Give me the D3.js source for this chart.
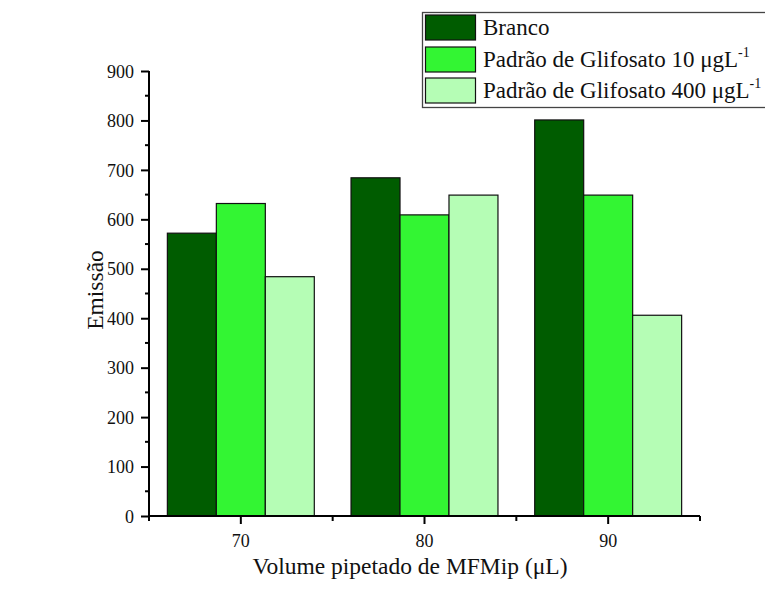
<!DOCTYPE html>
<html><head><meta charset="utf-8">
<script src="https://cdn.jsdelivr.net/npm/d3@7"></script>
<style>body{margin:0;background:#fff}svg{display:block}text{font-family:"Liberation Serif","Times New Roman",serif;fill:#111}</style>
</head><body>
<svg id="c" width="765" height="610"></svg>
<script>
const categories = ["70","80","90"];
const seriesNames = ["Branco","Padrão de Glifosato 10 μgL","Padrão de Glifosato 400 μgL"];
const branco = [572, 684, 801];
const glif10 = [632, 609, 649];
const glif400 = [484, 649, 406];
const yTicks = [0,100,200,300,400,500,600,700,800,900];
const colors = ["#005c00","#33f533","#b5fdb5"];
const series = [branco, glif10, glif400];

(function(){
const svg = d3.select("#c");
const pL = 149, pR = 700, pT = 71, pB = 516;
const x = d3.scaleBand().domain(categories).range([pL, pR]).paddingInner(0.2).paddingOuter(0.1);
const xs = d3.scaleBand().domain([0,1,2]).range([0, x.bandwidth()]);
const y = d3.scaleLinear().domain([0, 900]).range([pB, pT]);

categories.forEach((c, i) => {
  series.forEach((s, j) => {
    svg.append("rect")
      .attr("x", x(c) + xs(j))
      .attr("y", y(s[i]))
      .attr("width", xs.bandwidth())
      .attr("height", y(0) - y(s[i]))
      .attr("fill", colors[j])
      .attr("stroke", "#111")
      .attr("stroke-width", 1.2);
  });
});

const yAx = svg.append("g").attr("transform", `translate(${pL},0)`)
  .call(d3.axisLeft(y).tickValues(yTicks).tickSize(8).tickPadding(7));
yAx.attr("font-family", null);
yAx.selectAll("text").style("font-size", "18px").attr("dy", "0.34em");
yAx.select(".domain").attr("stroke-width", 2).attr("d", `M0,${pB}V${pT}`);
yAx.selectAll(".tick line").attr("stroke-width", 2);
const yMinor = d3.range(50, 900, 100);
svg.append("g").selectAll("line").data(yMinor).join("line")
  .attr("x1", pL - 4).attr("x2", pL).attr("y1", d => y(d)).attr("y2", d => y(d))
  .attr("stroke", "#000").attr("stroke-width", 2);

const xAx = svg.append("g").attr("transform", `translate(0,${pB})`)
  .call(d3.axisBottom(x).tickSize(8).tickPadding(10));
xAx.attr("font-family", null);
xAx.selectAll("text").style("font-size", "18px");
xAx.select(".domain").attr("stroke-width", 2).attr("d", `M${pL},0H${pR}`);
xAx.selectAll(".tick line").attr("stroke-width", 2);
const cx = c => x(c) + x.bandwidth() / 2;
const xMinor = [pL, (cx("70") + cx("80")) / 2, (cx("80") + cx("90")) / 2, pR];
svg.append("g").selectAll("line").data(xMinor).join("line")
  .attr("x1", d => d).attr("x2", d => d).attr("y1", pB).attr("y2", pB + 5)
  .attr("stroke", "#000").attr("stroke-width", 2);

svg.append("text").attr("x", 410).attr("y", 574)
  .attr("text-anchor", "middle").style("font-size", "23.5px").text("Volume pipetado de MFMip (μL)");
svg.append("text").attr("transform", `translate(103,290) rotate(-90)`)
  .attr("text-anchor", "middle").style("font-size", "23.5px").text("Emissão");

const lg = svg.append("g");
lg.append("rect").attr("x", 422.5).attr("y", 12.5).attr("width", 360).attr("height", 95)
  .attr("fill", "#fff").attr("stroke", "#444").attr("stroke-width", 1.3);
const rowsY = [15, 47, 78];
const baseY = [35, 67, 98];
seriesNames.forEach((n, j) => {
  lg.append("rect").attr("x", 425.5).attr("y", rowsY[j]).attr("width", 50).attr("height", 25)
    .attr("fill", colors[j]).attr("stroke", "#111").attr("stroke-width", 1.2);
  const t = lg.append("text").attr("x", 483).attr("y", baseY[j]).style("font-size", "23px").text(n);
  if (j > 0) t.append("tspan").attr("dy", -10).style("font-size", "14px").text("-1");
});
})();
</script>
</body></html>
